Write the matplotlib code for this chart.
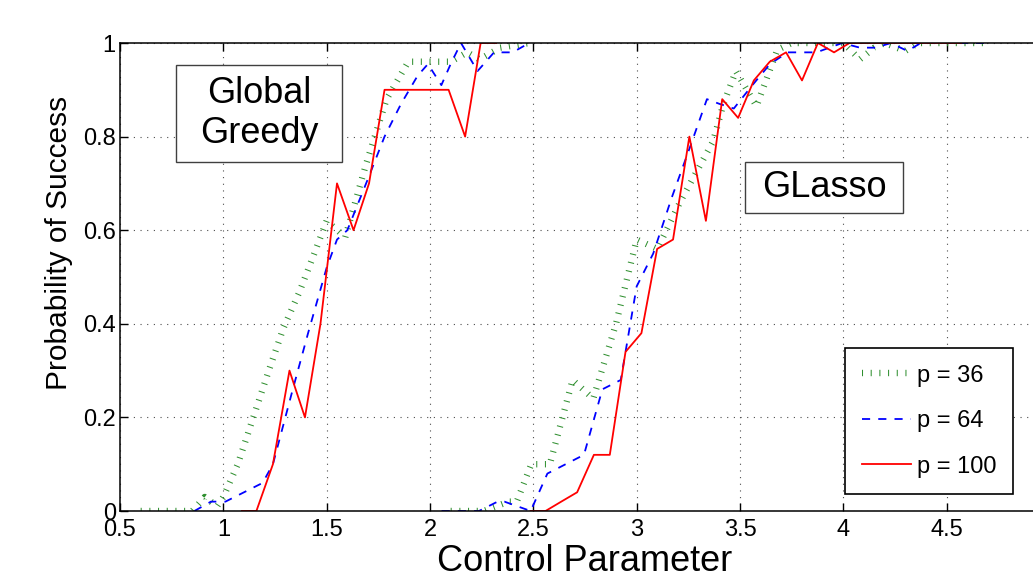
import matplotlib
matplotlib.use("Agg")
import matplotlib.pyplot as plt
from matplotlib.patches import Rectangle

plt.rcParams["font.family"] = ["Liberation Sans", "DejaVu Sans"]

W, H = 1033, 577

# Global Greedy curves
gg_x36 = [0.60, 0.85, 0.91, 0.97, 1.00, 1.07, 1.145, 1.22, 1.29, 1.37, 1.44, 1.50,
          1.59, 1.69, 1.79, 1.895, 2.00, 2.10, 2.18, 2.24, 2.34, 2.48]
gg_y36 = [0, 0, 0.03, 0.01, 0.03, 0.10, 0.20, 0.30, 0.39, 0.47, 0.55, 0.62,
          0.585, 0.74, 0.88, 0.96, 0.96, 0.96, 0.98, 0.965, 0.99, 1.0]
gg_x64 = [0.86, 0.94, 1.01, 1.10, 1.19, 1.24, 1.33, 1.41, 1.50, 1.55, 1.60, 1.70,
          1.78, 1.86, 1.94, 1.99, 2.055, 2.10, 2.15, 2.23, 2.31, 2.40, 2.48]
gg_y64 = [0, 0.02, 0.02, 0.04, 0.06, 0.10, 0.25, 0.38, 0.52, 0.58, 0.60, 0.71,
          0.80, 0.87, 0.93, 0.955, 0.91, 0.955, 1.0, 0.94, 0.98, 0.98, 1.0]
gg_x100 = [1.09, 1.16, 1.24, 1.32, 1.395, 1.47, 1.55, 1.63, 1.705, 1.78, 1.86,
           1.94, 2.015, 2.09, 2.17, 2.245, 2.32]
gg_y100 = [0, 0, 0.10, 0.30, 0.20, 0.40, 0.70, 0.60, 0.70, 0.90, 0.90,
           0.90, 0.90, 0.90, 0.80, 1.0, 1.0]

# GLasso curves
gl_x36 = [2.10, 2.26, 2.38, 2.42, 2.49, 2.58, 2.69, 2.79, 2.90, 3.00, 3.10, 3.21,
          3.37, 3.42, 3.48, 3.58, 3.68, 3.75, 3.83, 3.92, 4.00, 4.08, 4.15, 4.20,
          4.30, 4.36, 4.68]
gl_y36 = [0, 0, 0.02, 0.02, 0.10, 0.10, 0.28, 0.24, 0.40, 0.58, 0.56, 0.66,
          0.79, 0.87, 0.94, 0.865, 0.985, 1.0, 1.0, 1.0, 1.0, 0.965, 0.99, 1.0,
          0.983, 1.0, 1.0]
gl_x64 = [2.056, 2.237, 2.327, 2.36, 2.487, 2.568, 2.745, 2.834, 2.923, 3.00, 3.08,
          3.17, 3.26, 3.34, 3.40, 3.47, 3.56, 3.645, 3.73, 3.87, 3.995, 4.08, 4.157,
          4.23, 4.31, 4.375, 4.68]
gl_y64 = [0, 0, 0.02, 0.02, 0, 0.08, 0.12, 0.26, 0.28, 0.48, 0.55,
          0.67, 0.78, 0.88, 0.87, 0.86, 0.91, 0.955, 0.98, 0.98, 1.0, 0.99, 0.99,
          1.0, 0.983, 1.0, 1.0]
gl_x100 = [2.487, 2.559, 2.635, 2.712, 2.793, 2.870, 2.946, 3.023, 3.099, 3.176,
           3.255, 3.335, 3.414, 3.491, 3.567, 3.644, 3.723, 3.80, 3.877, 3.955,
           4.03, 4.57]
gl_y100 = [0, 0, 0.02, 0.04, 0.12, 0.12, 0.34, 0.38, 0.56, 0.58,
           0.80, 0.62, 0.88, 0.84, 0.92, 0.96, 0.98, 0.92, 1.0, 0.98,
           1.0, 1.0]

labels = ["p = 36", "p = 64", "p = 100"]
xticks = [0.5, 1, 1.5, 2, 2.5, 3, 3.5, 4, 4.5]
xticklabels = ["0.5", "1", "1.5", "2", "2.5", "3", "3.5", "4", "4.5"]
yticks = [0, 0.2, 0.4, 0.6, 0.8, 1]
yticklabels = ["0", "0.2", "0.4", "0.6", "0.8", "1"]

green = "#2f8f2f"
sty36 = dict(color=green, lw=4.6, dashes=(0.16, 1.2), dash_capstyle="butt")
sty64 = dict(color="#0000ff", lw=1.3, dashes=(4.5, 4.5))
sty100 = dict(color="#ff0000", lw=1.3)

fig = plt.figure(figsize=(W / 100, H / 100), dpi=100)
ax = fig.add_axes([120 / W, 66 / H, 930 / W, 468 / H])

l36, = ax.plot(gg_x36, gg_y36, **sty36)
l64, = ax.plot(gg_x64, gg_y64, **sty64)
l100, = ax.plot(gg_x100, gg_y100, **sty100)
ax.plot(gl_x36, gl_y36, **sty36)
ax.plot(gl_x64, gl_y64, **sty64)
ax.plot(gl_x100, gl_y100, **sty100)

ax.set_xlim(0.5, 5.0)
ax.set_ylim(0, 1)
ax.set_xticks(xticks)
ax.set_xticklabels(xticklabels)
ax.set_yticks(yticks)
ax.set_yticklabels(yticklabels)
ax.tick_params(direction="in", length=6, width=1, labelsize=17,
               top=True, right=True)
ax.tick_params(axis="x", pad=6)
ax.tick_params(axis="y", pad=3)
ax.grid(True, color="0.3", lw=0.8, linestyle=(0, (1, 5)))
for s in ax.spines.values():
    s.set_linewidth(1.1)

ax.set_xlabel("Control Parameter", fontsize=26)
ax.xaxis.set_label_coords(0.5, -0.07)
ax.set_ylabel("Probability of Success", fontsize=21.5)
ax.yaxis.set_label_coords(-0.05, 0.573)

# annotation boxes
for (x0, y0, x1, y1), txt in [((176, 65, 342, 162), "Global\nGreedy"),
                              ((745, 162, 903, 213), "GLasso")]:
    fig.patches.append(Rectangle((x0 / W, 1 - y1 / H), (x1 - x0) / W, (y1 - y0) / H,
                                 transform=fig.transFigure, facecolor="white",
                                 edgecolor="0.25", lw=1.0, zorder=5))
    fig.text((x0 + x1) / 2 / W, 1 - (y0 + y1) / 2 / H, txt, fontsize=26,
             ha="center", va="center", linespacing=1.15, zorder=6)

leg = ax.legend([l36, l64, l100], labels, loc="upper left",
                bbox_to_anchor=(845 / W, 1 - 348 / H), bbox_transform=fig.transFigure,
                fancybox=False, edgecolor="black", framealpha=1, fontsize=17,
                handlelength=2.1, handletextpad=0.25, labelspacing=1.0,
                borderpad=0.7, borderaxespad=0)
leg.get_frame().set_linewidth(1.2)

fig.savefig("out.png", dpi=100)
